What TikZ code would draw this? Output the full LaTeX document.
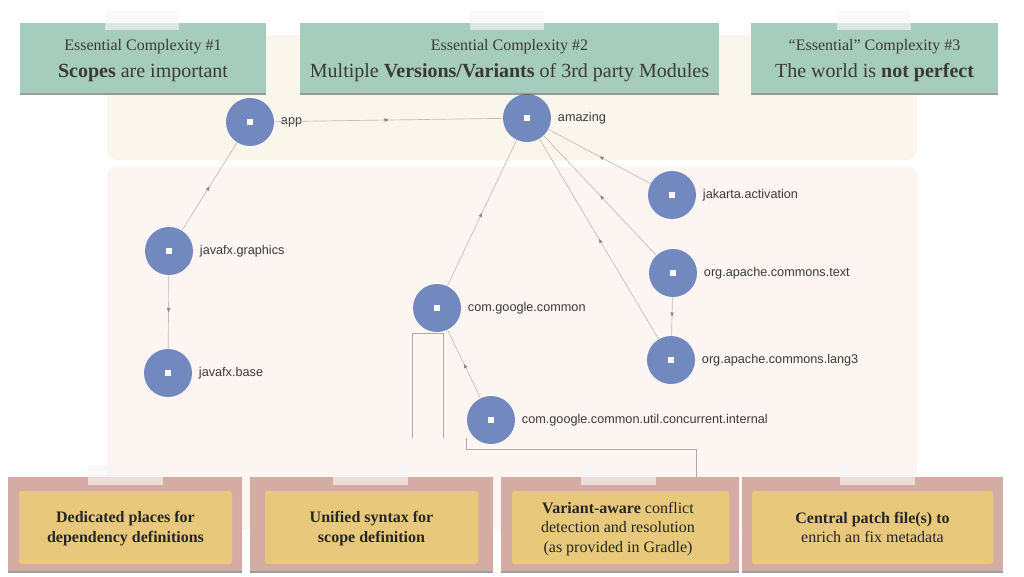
\documentclass[tikz,border=0pt]{standalone}
\usepackage{fontspec}
\setmainfont{Liberation Serif}
\newfontfamily\labelfont{Liberation Sans}
\usetikzlibrary{arrows.meta,decorations.markings,shadows}
\definecolor{upbg}{HTML}{FBF6EC}
\definecolor{lowbg}{HTML}{FCF5F1}
\definecolor{notegreen}{HTML}{A6CCBD}
\definecolor{noteframe}{HTML}{D5ACA3}
\definecolor{noteyellow}{HTML}{E8C97B}
\definecolor{nodeblue}{HTML}{7289BF}
\definecolor{edgegray}{HTML}{C4BCB6}
\definecolor{textdark}{HTML}{3A3A3A}
\begin{document}
\begin{tikzpicture}[x=0.75pt,y=-0.75pt,
  region/.style={fill=#1,rounded corners=7.5pt},
  depnode/.style={circle,fill=nodeblue,minimum size=36pt,inner sep=0pt,
    path picture={\fill[white] ([xshift=-1.9pt,yshift=-1.9pt]path picture bounding box.center) rectangle ++(3.8pt,3.8pt);},
    label={[font=\labelfont\fontsize{9.5}{11}\selectfont,text=textdark,label distance=1.5pt]right:#1}},
  edgeline/.style={draw=edgegray,line width=0.5pt,postaction={decorate},
    decoration={markings,mark=at position 0.5 with {\arrow[edgegray!70!black]{Triangle[length=3pt,width=2.6pt]}}}},
  bracket/.style={draw=edgegray!90!black,line width=0.6pt},
  greennote/.style={fill=notegreen,inner sep=0pt,minimum height=52.5pt,
    drop shadow={shadow xshift=0pt,shadow yshift=-1.6pt,fill=black!70,opacity=0.55}},
  framenote/.style={fill=noteframe,inner sep=0pt,minimum height=70.5pt,
    drop shadow={shadow xshift=0pt,shadow yshift=-1.6pt,fill=black!70,opacity=0.55}},
  yellownote/.style={fill=noteyellow,inner sep=0pt,minimum height=54.75pt,rounded corners=2pt},
  tape/.style={fill=white!94!gray,opacity=0.65,inner sep=0pt,minimum width=56pt,minimum height=14.5pt},
  headsmall/.style={anchor=base,text=textdark,font=\fontsize{12}{14}\selectfont},
  headbig/.style={anchor=base,text=textdark,font=\fontsize{15}{18}\selectfont},
  notetext/.style={anchor=base,text=black!85,font=\fontsize{12}{14}\selectfont}
]
\useasboundingbox (0,0) rectangle (1024,576);
\fill[white] (0,0) rectangle (1024,576);
% background regions
\fill[region=upbg] (107,35) rectangle (917,160);
\fill[region=lowbg] (107,167) rectangle (917,530);
% brackets
\draw[bracket] (412,438) -- (412,333) -- (443,333) -- (443,438);
\draw[bracket] (466,438) -- (466,449) -- (696,449) -- (696,477);
% nodes
\node[depnode=app] (app) at (250,122) {};
\node[depnode=amazing] (amz) at (527,118) {};
\node[depnode=jakarta.activation] (jak) at (672,195) {};
\node[depnode=javafx.graphics] (gfx) at (169,251) {};
\node[depnode=org.apache.commons.text] (txt) at (673,273) {};
\node[depnode=com.google.common] (gcc) at (437,308) {};
\node[depnode=org.apache.commons.lang3] (lang) at (671,360) {};
\node[depnode=javafx.base] (base) at (168,373) {};
\node[depnode=com.google.common.util.concurrent.internal] (int) at (491,420) {};
% edges
\draw[edgeline] (app) -- (amz);
\draw[edgeline] (gfx) -- (app);
\draw[edgeline] (gfx) -- (base);
\draw[edgeline] (jak) -- (amz);
\draw[edgeline] (txt) -- (amz);
\draw[edgeline] (lang) -- (amz);
\draw[edgeline] (gcc) -- (amz);
\draw[edgeline] (int) -- (gcc);
\draw[edgeline] (txt) -- (lang);
% top notes
\node[greennote,minimum width=184.5pt] (h1) at (143,58) {};
\node[greennote,minimum width=314pt] (h2) at (509.5,58) {};
\node[greennote,minimum width=185pt] (h3) at (874.5,58) {};
\node[tape] (t1) at (142,20.5) {};
\node[tape] (t2) at (507,20.5) {};
\node[tape] (t3) at (874,20.5) {};
\node[headsmall] (h1a) at (143,50) {Essential Complexity \#1};
\node[headbig] (h1b) at (143,77) {\textbf{Scopes} are important};
\node[headsmall] (h2a) at (509.5,50) {Essential Complexity \#2};
\node[headbig] (h2b) at (509.5,77) {Multiple \textbf{Versions/Variants} of 3rd party Modules};
\node[headsmall] (h3a) at (874.5,50) {“Essential” Complexity \#3};
\node[headbig] (h3b) at (874.5,77) {The world is \textbf{not perfect}};
% bottom notes
\node[framenote,minimum width=175.5pt] (b1) at (125,524) {};
\node[framenote,minimum width=182.25pt] (b2) at (371.5,524) {};
\node[framenote,minimum width=178.5pt] (b3) at (620,524) {};
\node[framenote,minimum width=195.75pt] (b4) at (872.5,524) {};
\node[yellownote,minimum width=159.75pt] (y1) at (125.5,527.5) {};
\node[yellownote,minimum width=159.75pt] (y2) at (371.5,527.5) {};
\node[yellownote,minimum width=162.75pt] (y3) at (620.5,527.5) {};
\node[yellownote,minimum width=180.75pt] (y4) at (872.5,527.5) {};
\node[tape] (t4) at (125.5,475) {};
\node[tape] (t5) at (370.5,475) {};
\node[tape] (t6) at (618.5,475) {};
\node[tape] (t7) at (877.5,475) {};
\node[notetext] (n1a) at (125.5,522) {\textbf{Dedicated places for}};
\node[notetext] (n1b) at (125.5,542) {\textbf{dependency definitions}};
\node[notetext] (n2a) at (371.5,522) {\textbf{Unified syntax for}};
\node[notetext] (n2b) at (371.5,542) {\textbf{scope definition}};
\node[notetext] (n3a) at (618,513) {\textbf{Variant-aware} conflict};
\node[notetext] (n3b) at (618,532.5) {detection and resolution};
\node[notetext] (n3c) at (618,552) {(as provided in Gradle)};
\node[notetext] (n4a) at (872.5,523) {\textbf{Central patch file(s) to}};
\node[notetext] (n4b) at (872.5,542) {enrich an fix metadata};
\end{tikzpicture}
\end{document}
